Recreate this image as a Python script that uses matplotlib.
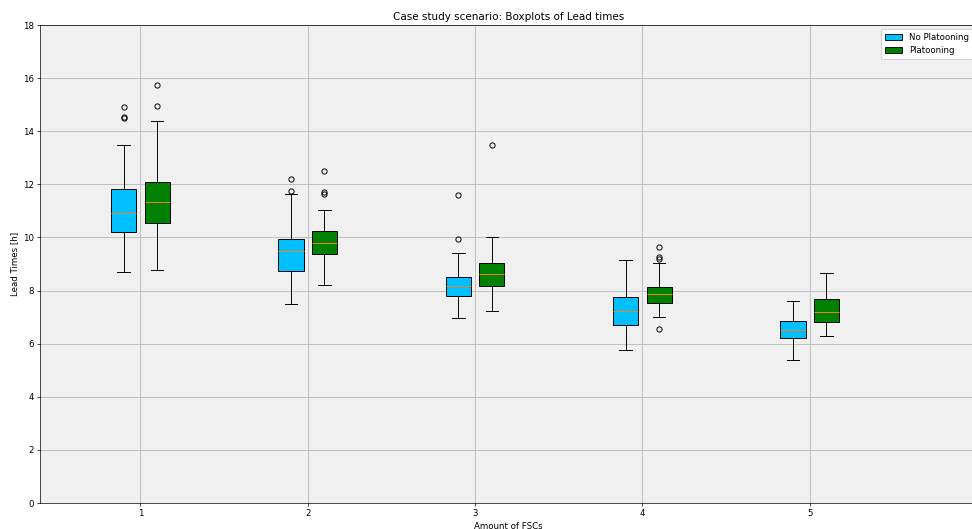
#import libraries
import matplotlib
matplotlib.use("Agg")
import matplotlib.pyplot as plt
from matplotlib.patches import Patch

#Data
fscs = [1, 2, 3, 4, 5]

# No Platooning
np_med = [10.93, 9.49, 8.16, 7.23, 6.50]
np_q1 = [10.20, 8.75, 7.79, 6.69, 6.22]
np_q3 = [11.82, 9.93, 8.51, 7.74, 6.84]
np_lo = [8.70, 7.50, 6.98, 5.75, 5.40]
np_hi = [13.49, 11.62, 9.40, 9.16, 7.59]
np_fliers = [[14.90, 14.55, 14.50], [12.19, 11.76], [11.60, 9.93], [], []]

# Platooning
p_med = [11.32, 9.79, 8.61, 7.89, 7.19]
p_q1 = [10.54, 9.36, 8.17, 7.53, 6.83]
p_q3 = [12.07, 10.24, 9.02, 8.14, 7.68]
p_lo = [8.76, 8.20, 7.22, 7.00, 6.28]
p_hi = [14.37, 11.04, 10.02, 9.05, 8.67]
p_fliers = [[15.75, 14.95], [12.49, 11.71, 11.65], [13.47], [9.63, 9.25, 9.19, 6.54], []]

def make_stats(med, q1, q3, lo, hi, fl):
    return [dict(med=med[i], q1=q1[i], q3=q3[i], whislo=lo[i], whishi=hi[i], fliers=fl[i])
            for i in range(len(med))]

#Figure (drawn at default sizes, saved at a low dpi so it comes out 972x529)
dpi = 62.5
fig = plt.figure(figsize=(972 / dpi, 529 / dpi), dpi=dpi)
ax = fig.add_axes([0.0412, 0.0491, 0.964, 0.9036])
ax.set_facecolor("#f0f0f0")
ax.grid(True, color="#c0c0c0", linewidth=1.2)
ax.set_axisbelow(True)

offset = 0.1
box_w = 0.15
line_kw = dict(color="black", linewidth=1.1)
for stats, color, sign in [(make_stats(np_med, np_q1, np_q3, np_lo, np_hi, np_fliers), "#00bfff", -1),
                           (make_stats(p_med, p_q1, p_q3, p_lo, p_hi, p_fliers), "green", 1)]:
    ax.bxp(stats, positions=[f + sign * offset for f in fscs], widths=box_w,
           patch_artist=True, manage_ticks=False,
           boxprops=dict(facecolor=color, edgecolor="black", linewidth=1.1),
           whiskerprops=line_kw, capprops=line_kw,
           medianprops=dict(color="#ff7f0e", linewidth=1.1),
           flierprops=dict(marker="o", markerfacecolor="none", markeredgecolor="black",
                           markersize=6, markeredgewidth=1.1))

ax.set_xlim(0.4, 6.0)
ax.set_ylim(0, 18)
ax.set_xticks(fscs)
ax.set_xticklabels([str(f) for f in fscs])
ax.set_yticks(range(0, 19, 2))
ax.set_title("Case study scenario: Boxplots of Lead times")
ax.set_xlabel("Amount of FSCs")
ax.set_ylabel("Lead Times [h]")

handles = [Patch(facecolor="#00bfff", edgecolor="black", label="No Platooning"),
           Patch(facecolor="green", edgecolor="black", label="Platooning")]
ax.legend(handles=handles, loc="upper right", framealpha=1)

fig.savefig("out.png", dpi=dpi)
